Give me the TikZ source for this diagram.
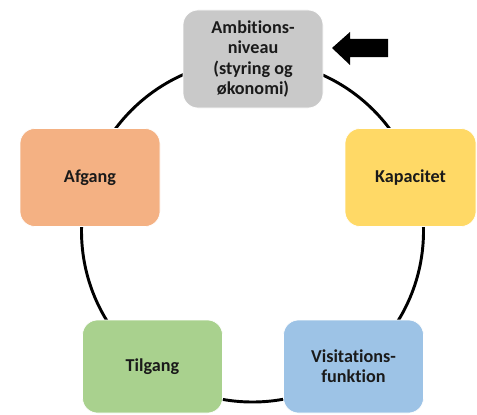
\documentclass[tikz,border=0pt]{standalone}
\usepackage{fontspec}
\setmainfont{Carlito}[Ligatures=NoCommon]
\usetikzlibrary{positioning}
\definecolor{ambgray}{HTML}{C9C9C9}
\definecolor{afgorange}{HTML}{F4B183}
\definecolor{kapyellow}{HTML}{FFD966}
\definecolor{tilgreen}{HTML}{A9D18E}
\definecolor{visblue}{HTML}{9DC3E6}
\definecolor{txtdark}{HTML}{1A1A1A}
\begin{document}
\begin{tikzpicture}[x=0.3mm,y=-0.3mm,
    stage/.style={draw=white,line width=0.6pt,rounded corners=4.5mm,minimum width=42mm,minimum height=29.4mm,
      align=center,inner sep=0pt,text=txtdark,font=\bfseries\fontsize{15.5}{17.2}\selectfont},
    ring/.style={line width=2.5pt,black}]
  \useasboundingbox (0,0) rectangle (477,414);
  \coordinate (M) at (252.5,231); % centre of the ring
  \draw[ring] (M) circle (171);
  \node[stage,fill=ambgray] (amb) at (253,59) {Ambitions-\\niveau\\(styring og\\økonomi)};
  \node[stage,fill=afgorange] (afg) at (90,177.5) {Afgang};
  \node[stage,fill=kapyellow,minimum width=39.3mm] (kap) at (410.5,177.5) {Kapacitet};
  \node[stage,fill=tilgreen,minimum height=27.9mm] (til) at (152.5,366.5) {Tilgang};
  \node[stage,fill=visblue,minimum height=27.9mm] (vis) at (353.5,366.5) {Visitations-\\funktion};
  % pointer at the top box
  \fill[black] (332,48) -- (350,32) -- (350,39) -- (388,39) -- (388,57) -- (350,57) -- (350,65) -- cycle;
\end{tikzpicture}
\end{document}
